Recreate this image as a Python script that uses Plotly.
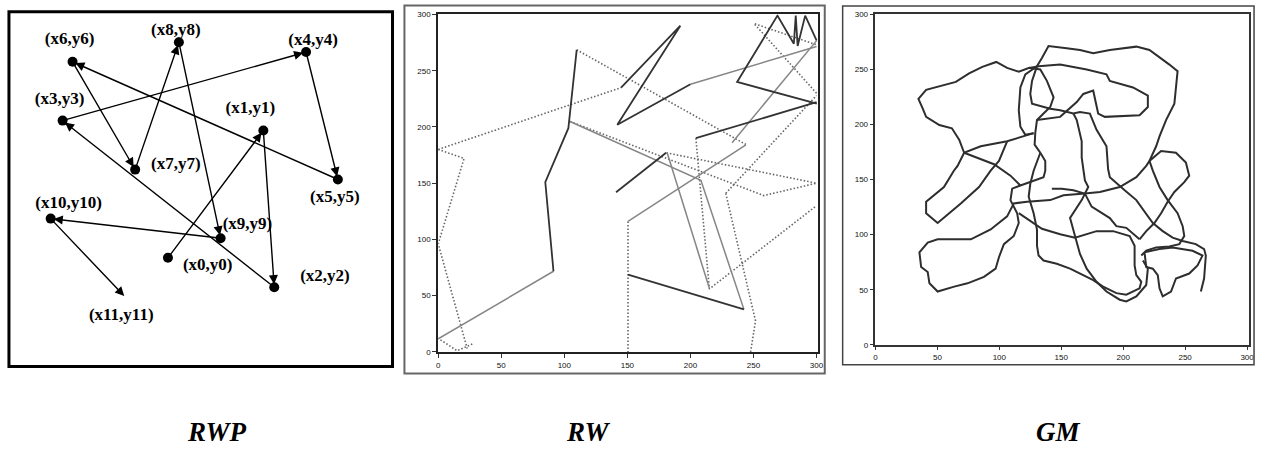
import plotly.graph_objects as go

# ---------------- RWP panel (schematic, panel units) ----------------
rwp_labels = ["(x0,y0)", "(x1,y1)", "(x2,y2)", "(x3,y3)", "(x4,y4)", "(x5,y5)",
              "(x6,y6)", "(x7,y7)", "(x8,y8)", "(x9,y9)", "(x10,y10)", "(x11,y11)"]
rwp_x = [160, 256, 267, 54, 299, 331, 64, 127, 171, 213, 42, 116]
rwp_y = [111, 241, 81, 251, 321, 191, 311, 201, 331, 131, 151, 72]
rwp_lab_x = [200, 243, 318, 51, 306, 328, 61, 168, 168, 240, 60, 113]
rwp_lab_y = [103, 263, 92, 272, 332, 172, 333, 206, 343, 145, 166, 52]

# ---------------- RW panel ----------------
N = None
rw_dark_x = [91.4, 84.9, 103.2, 109.8, N, 145, 192, 142, 200, N, 141, 180.7, N,
             150.5, 242.4, N, 204.3, 300, N, 300.2, 237, 269, 282, 283.5, 285, 291, 300]
rw_dark_y = [71.7, 151, 198.9, 268.6, N, 235, 290, 202, 238, N, 142, 177, N,
             68.8, 37.8, N, 190, 222, N, 220.7, 240, 299, 274, 299, 272, 299, 277]
rw_gray_x = [0, 91.4, N, 200, 300, N, 244, 150.5, N, 104.5, 208.3, 242.4, N,
             181.5, 215, N, 233, 300.2]
rw_gray_y = [11.6, 71.7, N, 238, 271.6, N, 184, 116, N, 204.8, 152.5, 37.8, N,
             177.2, 56.6, N, 186, 277]
rw_dot_x = [0, 145, N, 0, 20.5, 0, 23, N, 27, 15, 0, N, 109.8, 244, N, 150.5, 150.5, N,
            204.3, 215, 300, N, 300, 250.4, 300, N, 104.5, 258, 300, N, 181, 300, N,
            228, 251.6, 247.7, N, 228, 300]
rw_dot_y = [180, 235, N, 180, 172, 96, 3, N, 7, 1, 12, N, 268.6, 184.4, N, 116, 0, N,
            190, 56, 130, N, 230, 292, 273, N, 204.8, 139, 150, N, 177, 150, N,
            141, 27.6, 0, N, 141, 228]

# ---------------- GM panel ----------------
gm_x = [127.7, 106.3, 85.0, 71.6, 67.6, 61.7, 51.6, 40.9, 38.2, 34.7, 40.9, 52.9, 64.9, 75.6,
        86.3, 97.5, 106.3, 115.7, 124.2, 133.1, 138.4, 143.8, 141.1, 135.7, 130.4, 129.0,
        128.5, 133.1, 137.1, 137.1, 135.7, 117.0, 110.4, 109.0, 114.4, 115.7, 111.7, 103.7,
        99.7, 97.0, 87.6, 74.3, 63.6, 50.2, 43.6, 42.2, 36.9, 35.5, 42.2, 50.2, 77.0, 93.0,
        106.3, 111.7, 122.4, 141.1, 151.8, 169.1, 181.2, 197.2, 210.6, 218.6, 221.2, 230.6,
        242.6, 250.6, 253.3, 249.3, 241.3, 235.9, 230.6, 225.2, 218.6, 213.2, N,
        71.6, 66.3, 63.3, 55.3, 40.9, 40.9, 50.2, 68.9, 83.6, 93.0, 99.7, 106.3, N,
        71.6, 95.7, 109.0, 117.0, N,
        221.2, 226.6, 229.3, 234.6, 241.3, 243.9, 237.3, 221.2, 210.6, 189.2, 175.8, 165.1,
        154.4, 139.7, 134.4, 130.4, 126.4, 125.0, 126.4, 141.1, 149.1, 159.8, 165.1, 173.1,
        178.5, 186.5, 187.8, 189.2, 201.2, 210.6, 223.9, 231.9, 239.9, 248.0, 258.6, 265.3,
        266.7, 265.3, 262.7, N,
        130.4, 138.4, 149.1, 162.5, 167.8, 175.8, 179.8, 185.2, 213.2, 219.9, 219.9, 207.9,
        189.2, 186.5, 170.5, 149.1, 131.7, 124.2, N,
        159.8, 162.5, 166.5, 166.5, 169.1, 171.8, 166.5, 159.8, 157.1, 161.1, 165.1, 170.5,
        178.5, 186.5, 197.2, 202.5, 210.6, 218.6, 219.9, 215.9, N,
        115.7, 123.7, 134.4, 149.1, 161.1, 178.5, 191.9, 205.2, 209.2, 209.2, 210.6, 214.6,
        213.2, 202.5, 194.5, 183.8, 175.8, 157.1, N,
        133.1, 130.4, 127.7, 125.0, 123.7, 127.7, 130.4, 130.4, 131.7, 135.7, 146.4, 157.1, N,
        127.7, 121.0, 117.0, 115.7, 117.0, 121.0, 130.4, N,
        221.2, 223.9, 229.3, 235.9, 243.9, 248.0, 249.3, 245.3, 237.3, 226.6, 218.6, 214.6, N,
        217.2, 229.3, 239.9, 256.0, 264.0, 260.0, 253.3, 242.6, 238.6, 231.9, 229.3, 227.9,
        223.9, 218.6, 217.2, N,
        142.4, 150.4, 159.8, 169.1, N,
        169.1, 174.5, 189.2, 194.5, 202.5, 213.2]
gm_y = [192.2, 184.8, 180.3, 174.4, 186.3, 196.6, 199.6, 207.0, 214.4, 223.3, 231.6, 235.2,
        238.8, 246.5, 252.4, 256.9, 251.5, 248.0, 251.5, 250.0, 239.7, 224.8, 215.9, 210.0,
        204.1, 192.2, 181.8, 174.4, 167.0, 158.1, 152.2, 144.7, 141.8, 131.4, 119.5, 110.6,
        98.8, 91.4, 79.5, 69.1, 61.7, 55.8, 52.8, 48.3, 55.8, 66.1, 70.6, 83.9, 92.8, 95.8,
        95.8, 104.7, 116.6, 128.4, 129.9, 131.4, 135.8, 137.3, 138.8, 143.3, 152.2, 162.5,
        167.0, 175.9, 174.4, 165.5, 153.6, 147.7, 138.8, 129.9, 119.5, 110.6, 103.2, 95.8, N,
        174.4, 162.5, 158.1, 143.3, 129.9, 119.5, 110.6, 128.4, 143.3, 158.1, 167.0, 184.8, N,
        174.4, 164.0, 153.6, 144.7, N,
        167.0, 180.3, 189.2, 204.1, 218.9, 248.5, 254.5, 267.8, 270.8, 267.8, 264.9, 267.8,
        269.3, 271.4, 260.4, 253.0, 239.7, 227.8, 218.9, 214.4, 213.0, 210.0, 211.5, 210.0,
        195.2, 180.3, 159.6, 152.2, 140.3, 131.4, 110.6, 103.2, 97.3, 94.3, 91.4, 86.9,
        81.0, 60.2, 48.3, N,
        204.1, 205.5, 207.0, 220.4, 227.8, 230.8, 210.0, 207.0, 208.5, 215.9, 226.3, 233.7,
        239.7, 245.6, 250.0, 254.5, 253.0, 251.5, N,
        210.0, 204.1, 184.8, 170.0, 149.2, 143.3, 131.4, 119.5, 115.1, 98.8, 82.5, 69.1,
        57.2, 48.3, 40.9, 39.4, 43.9, 54.3, 69.1, 76.5, N,
        119.5, 113.6, 105.3, 100.3, 97.3, 103.2, 103.2, 98.8, 89.9, 72.1, 63.2, 57.2,
        51.3, 45.4, 46.9, 52.8, 58.7, 69.1, N,
        174.4, 167.0, 158.1, 146.2, 134.4, 119.5, 104.7, 89.9, 81.0, 76.5, 73.6, 69.1, N,
        192.2, 190.7, 198.1, 213.0, 233.7, 245.6, 253.0, N,
        167.0, 158.1, 143.3, 131.4, 119.5, 107.7, 98.8, 91.4, 89.3, 88.4, 85.4, 81.0, N,
        83.9, 86.9, 88.4, 85.4, 81.0, 72.1, 64.7, 60.2, 48.3, 43.9, 51.3, 63.2,
        69.1, 70.6, 83.9, N,
        141.8, 141.8, 140.3, 137.3, N,
        137.3, 125.5, 115.1, 107.7, 106.2, 95.8]

axis_ticks = [0, 50, 100, 150, 200, 250, 300]
panel_titles = ["RWP", "RW", "GM"]

W, H = 1265, 450
def px(v):
    return v / W
def py(v):
    return 1 - v / H

fig = go.Figure()

# RWP dots
dot_idx = list(range(11))
fig.add_trace(go.Scatter(x=[rwp_x[i] for i in dot_idx], y=[rwp_y[i] for i in dot_idx],
                         mode="markers", marker=dict(color="black", size=10),
                         xaxis="x", yaxis="y", showlegend=False, hoverinfo="skip"))
fig.add_trace(go.Scatter(x=rwp_lab_x, y=rwp_lab_y, mode="text", text=rwp_labels,
                         textfont=dict(family="Liberation Serif", size=17, color="black"),
                         texttemplate="<b>%{text}</b>",
                         xaxis="x", yaxis="y", showlegend=False, hoverinfo="skip"))

annotations = []
for i in range(len(rwp_x) - 1):
    annotations.append(dict(x=rwp_x[i + 1], y=rwp_y[i + 1], ax=rwp_x[i], ay=rwp_y[i],
                            xref="x", yref="y", axref="x", ayref="y", text="",
                            showarrow=True, arrowhead=2, arrowsize=1.3, arrowwidth=1.4,
                            arrowcolor="black", standoff=3 if i + 1 < 11 else 0))

# RW traces
fig.add_trace(go.Scatter(x=rw_dot_x, y=rw_dot_y, mode="lines",
                         line=dict(color="#666666", width=1.6, dash="1.5px,2px"),
                         xaxis="x2", yaxis="y2", showlegend=False, hoverinfo="skip"))
fig.add_trace(go.Scatter(x=rw_gray_x, y=rw_gray_y, mode="lines",
                         line=dict(color="#858585", width=1.5),
                         xaxis="x2", yaxis="y2", showlegend=False, hoverinfo="skip"))
fig.add_trace(go.Scatter(x=rw_dark_x, y=rw_dark_y, mode="lines",
                         line=dict(color="#333333", width=1.8),
                         xaxis="x2", yaxis="y2", showlegend=False, hoverinfo="skip"))

# GM trace
fig.add_trace(go.Scatter(x=gm_x, y=gm_y, mode="lines",
                         line=dict(color="#2e2e2e", width=2),
                         xaxis="x3", yaxis="y3", showlegend=False, hoverinfo="skip"))

# Titles
title_x = [216, 590, 1063]
for t, cx in zip(panel_titles, title_x):
    annotations.append(dict(x=px(cx), y=py(437), xref="paper", yref="paper",
                            text="<b><i>%s</i></b>" % t, showarrow=False,
                            font=dict(family="Liberation Serif", size=27, color="black"),
                            xanchor="center", yanchor="middle"))

hidden = dict(visible=False, showgrid=False, zeroline=False)
tickstyle = dict(tickmode="array", tickvals=axis_ticks, ticks="outside", ticklen=4,
                 tickwidth=1, tickcolor="#333", showline=True, mirror=True,
                 showgrid=False, zeroline=False,
                 tickfont=dict(family="Liberation Sans", size=8, color="#111"))

shapes = [
    dict(type="rect", xref="paper", yref="paper", x0=px(7), x1=px(393), y0=py(370), y1=py(8),
         line=dict(color="black", width=3)),
    dict(type="rect", xref="paper", yref="paper", x0=px(405), x1=px(828), y0=py(377), y1=py(1.5),
         line=dict(color="#666", width=2)),
    dict(type="rect", xref="paper", yref="paper", x0=px(846), x1=px(1260), y0=py(368), y1=py(2),
         line=dict(color="#444", width=1.5)),
]

fig.update_layout(
    width=W, height=H, margin=dict(l=0, r=0, t=0, b=0),
    paper_bgcolor="white", plot_bgcolor="white",
    xaxis=dict(domain=[px(7), px(393)], range=[0, 386], **hidden),
    yaxis=dict(domain=[py(370), py(8)], range=[0, 362], **hidden),
    xaxis2=dict(domain=[px(439), px(821)], range=[0, 301], anchor="y2",
                linecolor="#222", linewidth=2, **tickstyle),
    yaxis2=dict(domain=[py(355), py(10.7)], range=[0, 300], anchor="x2",
                linecolor="#222", linewidth=2, **tickstyle),
    xaxis3=dict(domain=[px(879), px(1255)], range=[0, 301.6], anchor="y3",
                linecolor="#333", linewidth=1.5, **tickstyle),
    yaxis3=dict(domain=[py(347.7), py(10.7)], range=[0, 300], anchor="x3",
                linecolor="#333", linewidth=1.5, **tickstyle),
    annotations=annotations, shapes=shapes,
)

fig.write_html("out.html",
               config={"displayModeBar": False},
               post_script="document.body.style.margin='0';"
                           "document.body.style.overflow='hidden';")
